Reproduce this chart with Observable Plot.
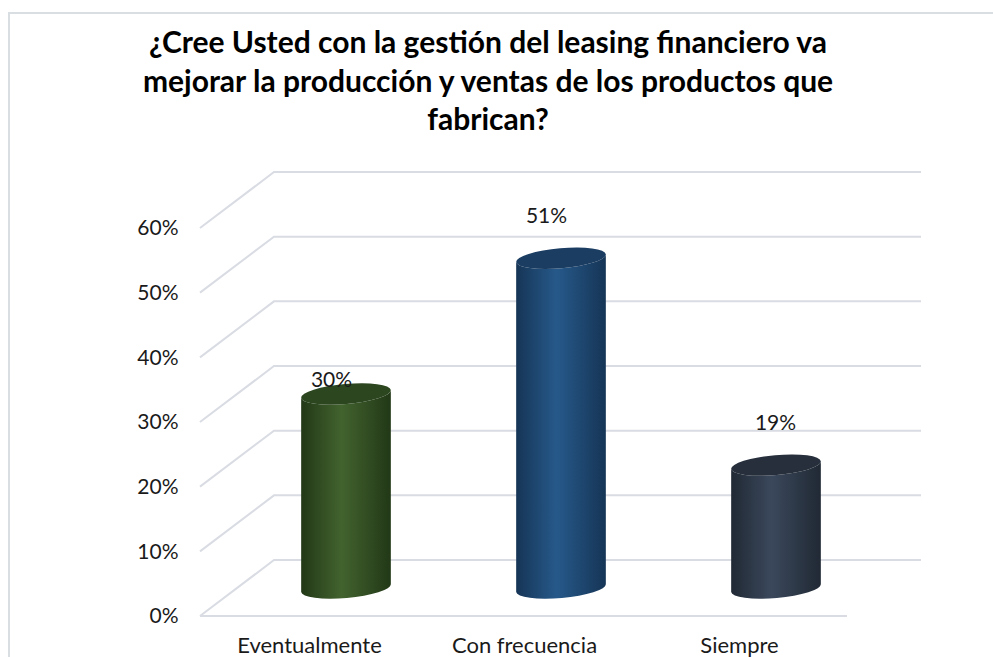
<!DOCTYPE html>
<html><head><meta charset="utf-8">
<script src="https://cdn.jsdelivr.net/npm/d3@7"></script>
<script src="https://cdn.jsdelivr.net/npm/@observablehq/plot@0.6"></script>
<style>
html,body{margin:0;padding:0;background:#fff;width:993px;height:657px;overflow:hidden;}
#frame{position:absolute;left:8px;top:12px;width:1200px;height:900px;border-left:2px solid #d9dee3;border-top:2px solid #d9dee3;}
#title{position:absolute;left:0;top:22px;width:976px;text-align:center;font-family:Lato,sans-serif;font-weight:bold;font-size:30px;line-height:38.5px;color:#000;}
#chart{position:absolute;left:0;top:0;}
</style></head><body>
<div id="frame"></div>
<div id="chart"></div>
<div id="title"></div>
<script>
const titleLines = [
  "¿Cree Usted con la gestión del leasing financiero va",
  "mejorar la producción y ventas de los productos que",
  "fabrican?"
];
const categories = ["Eventualmente", "Con frecuencia", "Siempre"];
const values = [0.30, 0.51, 0.19];
const valueLabels = ["30%", "51%", "19%"];
const yTicks = [0, 0.1, 0.2, 0.3, 0.4, 0.5, 0.6];
const yTickLabels = ["0%", "10%", "20%", "30%", "40%", "50%", "60%"];

// styles (not data)
const palette = [
  {edge: "#223817", mid: "#42632e", top: "#2c4620"},
  {edge: "#163556", mid: "#26598a", top: "#1b3d62"},
  {edge: "#202934", mid: "#3b485c", top: "#262f3b"}
];
const labelShift = [{dx: 22, dy: -42}, {dx: 22, dy: -70}, {dx: 36, dy: -70}];
const gridColor = "#dadce4";
const DX = 74, DY = -56, RY = 10, TILT = -5;

const tl = document.getElementById("title");
titleLines.forEach((t, i) => { if (i) tl.appendChild(document.createElement("br")); tl.appendChild(document.createTextNode(t)); });

const data = categories.map((c, i) => ({cat: c, value: values[i], label: valueLabels[i], i}));

function gridRender(index, scales, vals, dims) {
  const g = d3.create("svg:g").attr("fill", "none").attr("stroke", gridColor).attr("stroke-width", 2);
  const xl = dims.marginLeft, xr = dims.width - dims.marginRight;
  for (const i of index) {
    const y = vals.y[i];
    g.append("path").attr("d", `M${xl},${y}L${xl + DX},${y + DY}H${xr + DX}`);
  }
  const y0 = scales.y(0);
  g.append("path").attr("d", `M${xl},${y0}H${xr}`);
  return g.node();
}

function cylRender(index, scales, vals, dims) {
  const g = d3.create("svg:g");
  const defs = g.append("defs");
  const bw = scales.x.bandwidth();
  const rad = TILT * Math.PI / 180;
  for (const i of index) {
    const c = palette[i % palette.length];
    const id = "cylgrad" + i;
    const grad = defs.append("linearGradient").attr("id", id).attr("x1", 0).attr("x2", 1).attr("y1", 0).attr("y2", 0);
    grad.append("stop").attr("offset", "0%").attr("stop-color", c.edge);
    grad.append("stop").attr("offset", "45%").attr("stop-color", c.mid);
    grad.append("stop").attr("offset", "100%").attr("stop-color", c.edge);
    const rx = bw / 2;
    const cx = vals.x[i] + rx + DX / 2;
    const yT = Math.min(vals.y1[i], vals.y2[i]) + DY / 2;
    const yB = Math.max(vals.y1[i], vals.y2[i]) + DY / 2;
    const ox = rx * Math.cos(rad), oy = rx * Math.sin(rad);
    const d = `M${cx - ox},${yT - oy}L${cx - ox},${yB - oy}` +
      `A${rx},${RY},${TILT},0,0,${cx + ox},${yB + oy}` +
      `L${cx + ox},${yT + oy}A${rx},${RY},${TILT},0,1,${cx - ox},${yT - oy}Z`;
    g.append("path").attr("d", d).attr("fill", `url(#${id})`);
    g.append("ellipse").attr("cx", cx).attr("cy", yT).attr("rx", rx).attr("ry", RY)
      .attr("transform", `rotate(${TILT},${cx},${yT})`).attr("fill", c.top);
  }
  return g.node();
}

const chart = Plot.plot({
  width: 993,
  height: 657,
  marginLeft: 200,
  marginRight: 146,
  marginTop: 228,
  marginBottom: 41,
  style: {fontFamily: "Lato, sans-serif", fontSize: "21px", color: "#1a1a1a", background: "transparent"},
  x: {type: "band", domain: categories, paddingInner: 0.583, paddingOuter: 0.2915, align: 0.5},
  y: {domain: [0, 0.6]},
  marks: [
    Plot.ruleY(yTicks, {y: d => d, render: gridRender}),
    Plot.axisY({ticks: yTicks, tickFormat: (d) => yTickLabels[yTicks.indexOf(d)], tickSize: 0, tickPadding: 22, label: null, fontSize: 21}),
    Plot.axisX({tickSize: 0, tickPadding: 21, label: null, fontSize: 22}),
    Plot.barY(data, {x: "cat", y: "value", render: cylRender}),
    ...data.map((d, i) => Plot.text([d], {x: "cat", y: "value", text: "label", dx: labelShift[i].dx, dy: labelShift[i].dy, fontSize: 21, fill: "#1a1a1a"}))
  ]
});
document.getElementById("chart").appendChild(chart);
</script>
</body></html>
